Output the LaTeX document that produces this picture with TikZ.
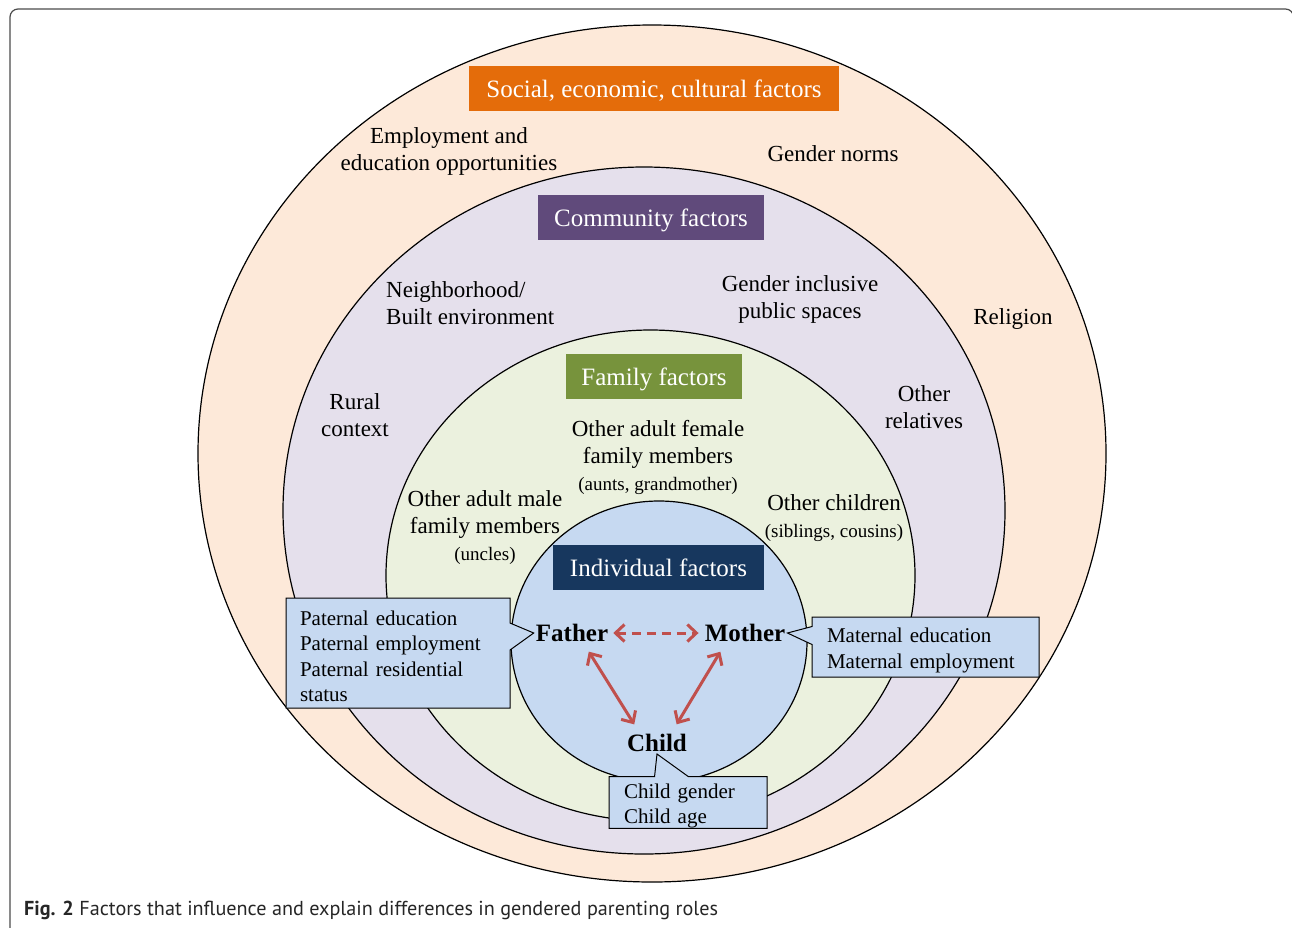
\documentclass[tikz,border=0pt]{standalone}
\usepackage{fontspec}
\setmainfont{Liberation Serif}
\newfontfamily\capfont{PT Sans}
\usetikzlibrary{arrows.meta,shapes.callouts}

\definecolor{socialbg}{HTML}{FDE9D9}
\definecolor{socialhd}{HTML}{E46C0A}
\definecolor{commbg}{HTML}{E5E0EC}
\definecolor{commhd}{HTML}{604A7B}
\definecolor{familybg}{HTML}{EBF1DE}
\definecolor{familyhd}{HTML}{77933C}
\definecolor{indivbg}{HTML}{C6D9F1}
\definecolor{indivhd}{HTML}{17375E}
\definecolor{linkred}{HTML}{C0504D}

\begin{document}
\begin{tikzpicture}[x=1pt, y=-1pt,
  header/.style={fill=#1, text=white, font=\fontsize{25}{30}\selectfont, inner sep=0pt, text depth=0pt, minimum height=45pt},
  factor/.style={align=center, font=\fontsize{23}{27}\selectfont, inner sep=0pt},
  member/.style={font=\fontsize{25}{30}\selectfont\bfseries, inner sep=2pt},
  infobox/.style={rectangle callout, draw, line width=1pt, fill=indivbg, align=left, inner ysep=3pt, font=\fontsize{21}{25.5}\selectfont, execute at begin node={\rule{0pt}{21.5pt}}},
  link/.style={linkred, line width=3pt, {Straight Barb[length=9pt,width=17pt]}-{Straight Barb[length=9pt,width=17pt]}, shorten <=9pt, shorten >=9pt}
]
\useasboundingbox (0,0) rectangle (1292,927);

\draw [rounded corners=8pt, line width=1.2pt, black!70] (10,9) rectangle (1293.5,980);

\draw [fill=socialbg, line width=1.2pt] (652,453.5) ellipse [x radius=454pt, y radius=428.5pt];
\draw [fill=commbg, line width=1.2pt] (644,510.5) ellipse [x radius=361pt, y radius=343.5pt];
\draw [fill=familybg, line width=1.2pt] (650.5,575.5) ellipse [x radius=264.5pt, y radius=245.5pt];
\draw [fill=indivbg, line width=1.2pt] (659,641.5) ellipse [x radius=148pt, y radius=140.5pt];

\node [header=socialhd, minimum width=370pt] (social) at (654,88.5) {Social, economic, cultural factors};
\node [header=commhd, minimum width=226pt] (community) at (651,217.5) {Community factors};
\node [header=familyhd, minimum width=176pt] (family) at (654,376.5) {Family factors};
\node [header=indivhd, minimum width=211pt] (individual) at (658.5,567.5) {Individual factors};

\node [factor] (employment) at (449,151.5) {Employment and\\education opportunities};
\node [factor] (gendernorms) at (833,154) {Gender norms};
\node [factor, align=left, anchor=west] (neighborhood) at (386,303) {Neighborhood/\\Built environment};
\node [factor] (inclusive) at (800,299.5) {Gender inclusive\\public spaces};
\node [factor] (religion) at (1013,319) {Religion};
\node [factor] (rural) at (355,415.5) {Rural\\context};
\node [factor] (relatives) at (924,407.5) {Other\\relatives};
\node [factor] (female) at (658,457.5) {Other adult female\\family members\\{\fontsize{19}{22}\selectfont (aunts, grandmother)}};
\node [factor] (male) at (485,528) {Other adult male\\family members\\{\fontsize{19}{22}\selectfont (uncles)}};
\node [factor] (children) at (834,518.5) {Other children\\{\fontsize{19}{22}\selectfont (siblings, cousins)}};

\node [member] (father) at (572,633) {Father};
\node [member] (mother) at (745,633) {Mother};
\node [member] (child) at (657,743) {Child};

\draw [link, dash pattern=on 9pt off 6pt, shorten <=3pt, shorten >=4pt] (father) -- (mother);
\draw [link] ([xshift=12pt]father.south) -- ([xshift=-18pt]child.north);
\draw [link] ([xshift=-20pt]mother.south) -- ([xshift=15pt]child.north);

\node [infobox, callout absolute pointer={(father.west)}, callout pointer width=27pt, text width=196pt, inner xsep=14pt, minimum height=110pt] (paternal) at (398,653) {Paternal education\\Paternal employment\\Paternal residential\\status};
\node [infobox, callout absolute pointer={(mother.east)}, callout pointer width=18pt, text width=197pt, inner xsep=15pt, minimum height=60pt] (maternal) at (925.5,647) {Maternal education\\Maternal employment};
\node [infobox, callout absolute pointer={(child.south)}, callout pointer width=34pt, text width=128pt, inner xsep=15pt, inner ysep=0pt, minimum height=51pt] (childinfo) at (688,802.5) {Child gender\\Child age};

\node [anchor=base west, inner sep=0pt, text=black!85, font=\capfont\fontsize{20.2}{24}\selectfont] (caption) at (24,915) {\textbf{Fig. 2} Factors that influence and explain differences in gendered parenting roles};
\end{tikzpicture}
\end{document}
